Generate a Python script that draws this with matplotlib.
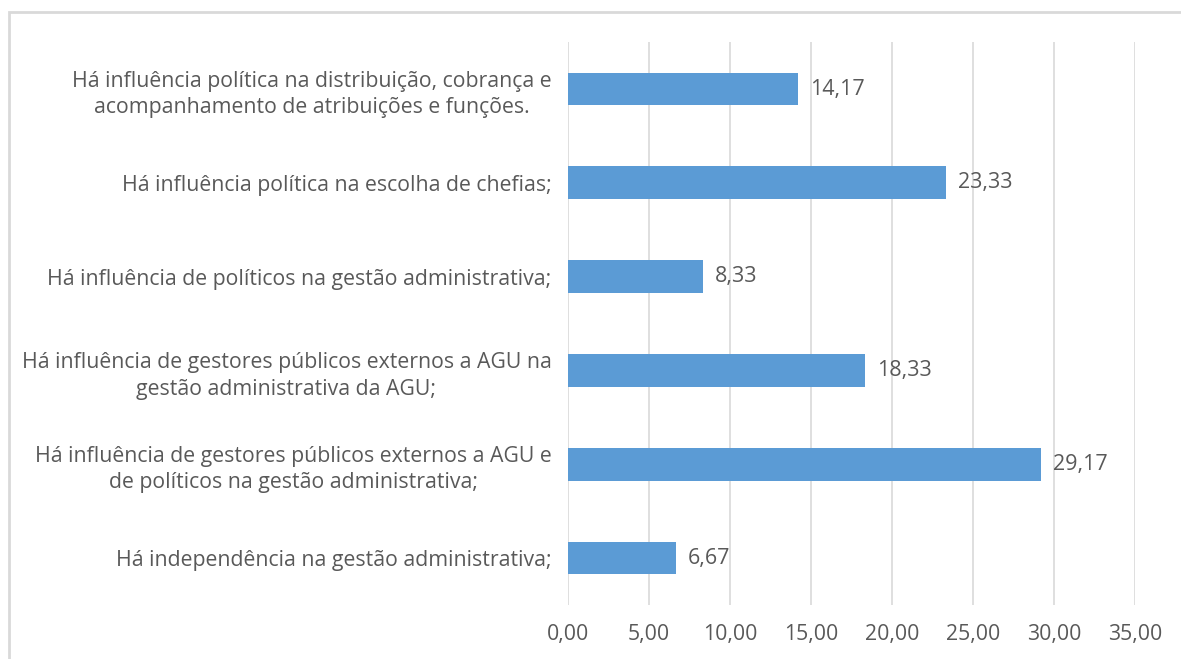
import matplotlib.pyplot as plt
from matplotlib.patches import Rectangle

# Survey answers and their percentages (top to bottom as shown)
categories = [
    "Há influência política na distribuição, cobrança e\nacompanhamento de atribuições e funções.",
    "Há influência política na escolha de chefias;",
    "Há influência de políticos na gestão administrativa;",
    "Há influência de gestores públicos externos a AGU na\ngestão administrativa da AGU;",
    "Há influência de gestores públicos externos a AGU e\nde políticos na gestão administrativa;",
    "Há independência na gestão administrativa;",
]
values = [14.17, 23.33, 8.33, 18.33, 29.17, 6.67]
xticks = [0, 5, 10, 15, 20, 25, 30, 35]

bar_color = "#5B9BD5"
text_color = "#595959"
grid_color = "#D9D9D9"

plt.rcParams["font.family"] = ["Open Sans", "DejaVu Sans"]

fig = plt.figure(figsize=(11.81, 6.59), dpi=100)
ax = fig.add_axes([0.481, 0.082, 0.480, 0.854])

# chart frame (only top and left edges fall inside the image)
fig.patches.append(Rectangle((9 / 1181, -0.1), 1.2, 1 - 12 / 659 + 0.1,
                             transform=fig.transFigure, fill=False,
                             edgecolor=grid_color, linewidth=2))

pos = list(range(len(values)))[::-1]
ax.barh(pos, values, height=0.35, color=bar_color, zorder=3)

for p, v in zip(pos, values):
    ax.text(v + 0.75, p, f"{v:.2f}".replace(".", ","), va="center",
            ha="left", fontsize=15.5, color=text_color)

ax.set_xlim(0, 35)
ax.set_ylim(-0.5, len(values) - 0.5)
ax.set_xticks(xticks)
ax.set_xticklabels([f"{t:.2f}".replace(".", ",") for t in xticks],
                   fontsize=15.3, color=text_color)
ax.set_yticks(pos)
ax.set_yticklabels(categories, fontsize=15.3, color=text_color,
                   multialignment="center", linespacing=1.35)
ax.tick_params(axis="both", length=0)
ax.tick_params(axis="y", pad=12)
ax.tick_params(axis="x", pad=14)

ax.grid(axis="x", color=grid_color, linewidth=1.2, zorder=0)
for s in ax.spines.values():
    s.set_visible(False)

fig.savefig("out.png", dpi=100)
